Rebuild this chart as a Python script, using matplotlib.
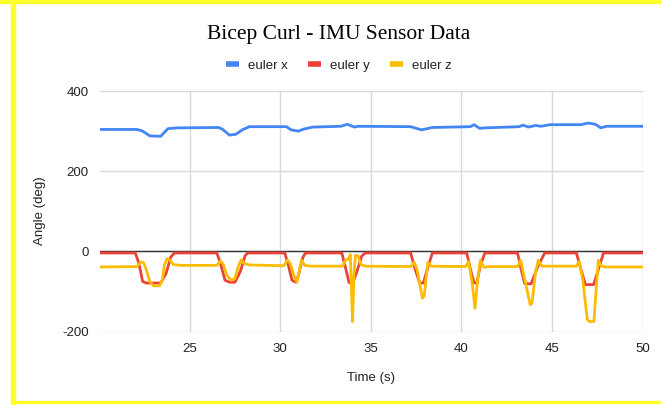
import matplotlib
matplotlib.use("Agg")
import matplotlib.pyplot as plt
from matplotlib.patches import Rectangle

plt.rcParams["axes.unicode_minus"] = False

# time (s) and angle (deg)
t_x = [20.1, 22.1, 22.4, 22.8, 23.4, 23.8, 24.3, 26.6, 26.8, 27.2, 27.55, 27.9, 28.3,
       30.35, 30.6, 31.0, 31.3, 31.8, 33.35, 33.7, 34.1, 34.3, 37.2, 37.8, 38.4,
       40.5, 40.7, 41.0, 41.3, 43.2, 43.4, 43.7, 44.1, 44.4, 44.9, 46.6, 47.0, 47.4,
       47.7, 48.0, 50.0]
euler_x = [304, 304, 300, 288, 287, 306, 308, 309, 305, 290, 292, 303, 311,
           311, 303, 300, 305, 310, 312, 317, 310, 312, 311, 303, 309,
           311, 316, 307, 308, 311, 315, 310, 314, 312, 316, 316, 320, 317,
           308, 312, 312]

t_y = [20.1, 22.0, 22.2, 22.4, 22.6, 23.4, 23.7, 23.95, 24.15, 26.5, 26.7, 26.95, 27.2,
       27.5, 27.8, 28.05, 28.2, 30.25, 30.45, 30.65, 30.85, 31.0, 31.25, 31.4, 33.4,
       33.6, 33.8, 34.0, 34.2, 34.5, 34.7, 37.2, 37.45, 37.7, 37.9, 38.15, 38.4, 40.3,
       40.5, 40.7, 40.85, 41.05, 41.3, 43.1, 43.3, 43.5, 43.85, 44.2, 44.6, 46.35,
       46.6, 46.85, 47.3, 47.6, 47.85, 50.0]
euler_y = [-4, -4, -30, -75, -79, -79, -55, -15, -4, -4, -30, -72, -77,
           -77, -50, -12, -4, -4, -35, -72, -77, -60, -15, -4, -4,
           -40, -78, -79, -55, -12, -4, -4, -45, -79, -79, -40, -4, -4,
           -45, -79, -79, -35, -4, -4, -45, -81, -81, -40, -4, -4,
           -45, -83, -83, -40, -4, -4]

t_z = [20.1, 22.1, 22.3, 22.45, 22.6, 22.8, 23.0, 23.35, 23.5, 23.6, 23.75, 23.9, 24.1,
       24.5, 26.5, 26.7, 26.85, 27.05, 27.3, 27.5, 27.7, 27.85, 28.0, 28.3, 30.2,
       30.4, 30.55, 30.75, 30.92, 31.05, 31.17, 31.35, 31.7, 33.45, 33.6, 33.75, 33.87,
       33.93, 33.99, 34.07, 34.15, 34.3, 34.45, 34.7, 37.2, 37.4, 37.55, 37.85, 37.95,
       38.15, 38.35, 40.25, 40.4, 40.6, 40.75, 40.9, 41.05, 41.25, 41.5, 43.1, 43.27,
       43.45, 43.8, 43.9, 44.1, 44.25, 44.45, 46.35, 46.5, 46.7, 46.95, 47.07, 47.32,
       47.4, 47.56, 47.7, 47.9, 50.0]
euler_z = [-39, -38, -27, -28, -45, -75, -86, -86, -70, -35, -18, -22, -33,
           -35, -35, -24, -32, -60, -72, -68, -35, -21, -30, -34, -36,
           -22, -30, -60, -77, -50, -22, -35, -37, -37, -22, -20, -8,
           -90, -175, -60, -10, -12, -33, -37, -38, -27, -45, -117, -110,
           -27, -37, -38, -25, -80, -142, -70, -22, -40, -38, -38, -22,
           -60, -133, -130, -50, -22, -37, -37, -25, -70, -170, -175, -175,
           -120, -22, -35, -39, -39]

x_ticks = [25, 30, 35, 40, 45, 50]
y_ticks = [-200, 0, 200, 400]

W, H = 661, 405
fig = plt.figure(figsize=(W / 100, H / 100), dpi=100)
ax = fig.add_axes([100 / W, 1 - 331.5 / H, 542.5 / W, 240.5 / H])

ax.plot(t_x, euler_x, color="#4285F4", lw=2.0, label="euler x", solid_joinstyle="round")
ax.plot(t_y, euler_y, color="#EA4335", lw=2.0, label="euler y", solid_joinstyle="round")
ax.plot(t_z, euler_z, color="#FBBC04", lw=2.0, label="euler z", solid_joinstyle="round")

ax.set_xlim(20.05, 50)
ax.set_ylim(-200, 400)
ax.set_xticks(x_ticks)
ax.set_yticks(y_ticks)
ax.grid(True, color="#d9d9d9", lw=1.0)
ax.set_axisbelow(True)
ax.axhline(0, color="#333333", lw=1.0, zorder=1.5)
for s in ax.spines.values():
    s.set_visible(False)
ax.tick_params(length=0, labelsize=9.5, labelcolor="#222222", pad=8)
for lab in ax.get_xticklabels() + ax.get_yticklabels():
    lab.set_fontfamily("Liberation Sans")

fig.text(40 / W, 1 - 211 / H, "Angle (deg)", rotation=90, ha="center", va="center",
         fontsize=9.5, family="Liberation Sans", color="#222222")
fig.text(371 / W, 1 - 378 / H, "Time (s)", ha="center", va="center",
         fontsize=9.5, family="Liberation Sans", color="#222222")
fig.text(339 / W, 1 - 34 / H, "Bicep Curl - IMU Sensor Data", ha="center", va="center",
         fontsize=15.5, family="Liberation Serif", color="#000000")

leg = fig.legend(loc="center", bbox_to_anchor=(339 / W, 1 - 66 / H), ncol=3, frameon=False,
                 handlelength=1.0, handletextpad=0.7, columnspacing=1.5,
                 prop={"family": "Liberation Sans", "size": 9.5})
for h in leg.get_lines():
    h.set_linewidth(4)
    h.set_solid_capstyle("butt")
for txt in leg.get_texts():
    txt.set_color("#222222")

# yellow frame of the screenshot
yellow = "#ffff2a"
fig.patches.append(Rectangle((0, 1 - 3 / H), 1, 3 / H, transform=fig.transFigure, color=yellow))
fig.patches.append(Rectangle((11 / W, 0), 3.5 / W, 1, transform=fig.transFigure, color=yellow))
fig.patches.append(Rectangle((11 / W, 2 / H), 1, 1.8 / H, transform=fig.transFigure, color=yellow))

fig.savefig("out.png", dpi=100)
